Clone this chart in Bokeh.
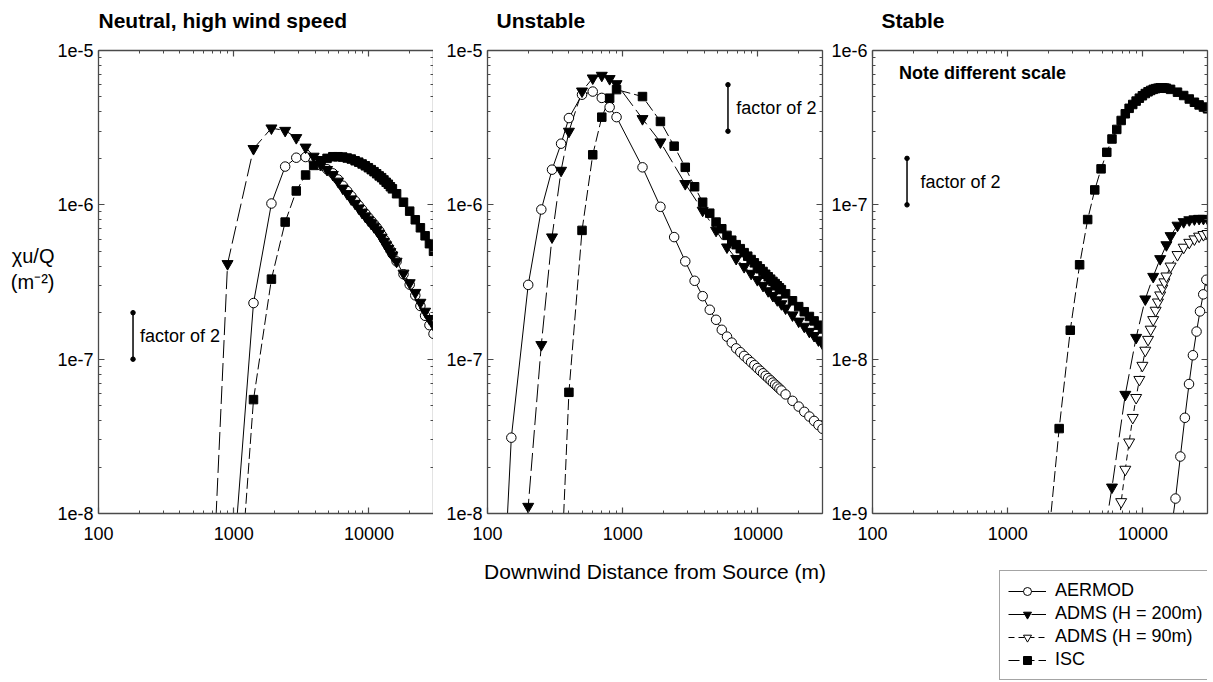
from bokeh.plotting import figure
from bokeh.layouts import row, column
from bokeh.models import (Range1d, FixedTicker, LogAxis, CustomJSTickFormatter,
                          Label, Legend, LegendItem, Title)
from bokeh.embed import file_html
from bokeh.resources import INLINE

N = None

# ---------------- data ----------------
DIST = [100, 150, 200, 250, 300, 350, 400, 500, 600, 700, 800, 900,
        1400, 1900, 2400, 2900, 3400, 3900, 4400, 4900, 5400, 5900, 6400, 6900,
        7400, 7900, 8400, 8900, 9400, 9900, 10400, 10900, 11400, 11900, 12400,
        12900, 13400, 13900, 14400, 14900,
        16000, 18000, 20000, 22000, 24000, 26000, 28000, 30000]

NEUTRAL_AERMOD = [N, N, N, N, N, N, N, N, N, N, N, 1.5e-9,
                  2.31e-7, 1.02e-6, 1.77e-6, 2.02e-6, 2.04e-6, 1.93e-6, 1.80e-6, 1.70e-6,
                  1.60e-6, 1.46e-6, 1.33e-6, 1.23e-6, 1.14e-6, 1.06e-6, 9.9e-7, 9.3e-7,
                  8.77e-7, 8.28e-7, 7.87e-7, 7.50e-7, 7.14e-7, 6.78e-7, 6.38e-7, 5.98e-7,
                  5.66e-7, 5.35e-7, 5.07e-7, 4.81e-7,
                  4.30e-7, 3.55e-7, 3.04e-7, 2.59e-7, 2.21e-7, 1.91e-7, 1.66e-7, 1.46e-7]
NEUTRAL_ADMS200 = [N, N, N, N, N, N, N, N, N, 3.3e-9, N, 4.15e-7,
                   2.31e-6, 3.14e-6, 3.03e-6, 2.72e-6, 2.36e-6, 2.06e-6, 1.83e-6, 1.69e-6,
                   1.57e-6, 1.42e-6, 1.28e-6, 1.18e-6, 1.09e-6, 1.02e-6, 9.5e-7, 8.9e-7,
                   8.4e-7, 7.95e-7, 7.55e-7, 7.2e-7, 6.86e-7, 6.52e-7, 6.15e-7, 5.78e-7,
                   5.49e-7, 5.21e-7, 4.96e-7, 4.72e-7,
                   4.30e-7, 3.60e-7, 3.12e-7, 2.70e-7, 2.33e-7, 2.04e-7, 1.83e-7, 1.66e-7]
NEUTRAL_ISC = [N, N, N, N, N, N, N, N, N, N, N, 2.6e-10,
               5.47e-8, 3.30e-7, 7.73e-7, 1.23e-6, 1.56e-6, 1.80e-6, 1.93e-6, 2.00e-6,
               2.05e-6, 2.05e-6, 2.04e-6, 2.01e-6, 1.98e-6, 1.93e-6, 1.89e-6, 1.84e-6,
               1.79e-6, 1.74e-6, 1.69e-6, 1.64e-6, 1.59e-6, 1.54e-6, 1.50e-6, 1.45e-6,
               1.40e-6, 1.36e-6, 1.31e-6, 1.27e-6,
               1.18e-6, 1.04e-6, 9.1e-7, 8.0e-7, 7.1e-7, 6.3e-7, 5.6e-7, 5.0e-7]

UNSTABLE_AERMOD = [2.5e-11, 3.10e-8, 3.03e-7, 9.33e-7, 1.69e-6, 2.49e-6, 3.65e-6, 5.17e-6,
                   5.42e-6, 4.93e-6, 4.29e-6, 3.70e-6,
                   1.75e-6, 9.71e-7, 6.18e-7, 4.30e-7, 3.22e-7, 2.56e-7, 2.09e-7, 1.80e-7,
                   1.55e-7, 1.40e-7, 1.28e-7, 1.175e-7, 1.11e-7, 1.05e-7, 1.00e-7, 9.55e-8,
                   9.14e-8, 8.75e-8, 8.41e-8, 8.10e-8, 7.80e-8, 7.53e-8, 7.29e-8, 7.05e-8,
                   6.84e-8, 6.64e-8, 6.45e-8, 6.27e-8,
                   5.91e-8, 5.37e-8, 4.93e-8, 4.56e-8, 4.25e-8, 3.98e-8, 3.74e-8, 3.54e-8]
UNSTABLE_ADMS200 = [N, 1e-11, 1.11e-8, 1.24e-7, 6.18e-7, 1.67e-6, 2.99e-6, 5.45e-6,
                    6.62e-6, 6.89e-6, 6.56e-6, 6.08e-6,
                    3.61e-6, 2.55e-6, N, 1.37e-6, N, 9.2e-7, N, 6.82e-7,
                    N, 5.32e-7, N, 4.48e-7, N, 3.97e-7, N, 3.59e-7,
                    N, 3.27e-7, N, 3.00e-7, N, 2.77e-7, N, 2.58e-7,
                    N, 2.42e-7, N, 2.28e-7,
                    2.14e-7, 1.93e-7, 1.76e-7, 1.63e-7, 1.51e-7, 1.42e-7, 1.33e-7, 1.26e-7]
UNSTABLE_ISC = [N, N, N, N, N, 4e-9, 6.1e-8, 6.83e-7, 2.11e-6, 3.70e-6, 4.91e-6, 5.58e-6,
                5.03e-6, 3.47e-6, 2.40e-6, 1.75e-6, 1.31e-6, 1.04e-6, 8.83e-7, 7.73e-7,
                7.0e-7, 6.34e-7, 5.90e-7, 5.52e-7, 5.20e-7, 4.90e-7, 4.65e-7, 4.42e-7,
                4.21e-7, 4.02e-7, 3.85e-7, 3.70e-7, 3.55e-7, 3.42e-7, 3.30e-7, 3.19e-7,
                3.09e-7, 2.99e-7, 2.90e-7, 2.82e-7,
                2.65e-7, 2.39e-7, 2.19e-7, 2.03e-7, 1.89e-7, 1.77e-7, 1.66e-7, 1.57e-7]

STABLE_AERMOD_DIST = [15900, 17400, 18900, 20400, 21900, 23400, 24900, 26400, 27900, 29400]
STABLE_AERMOD = [7e-10, 1.25e-9, 2.34e-9, 4.17e-9, 6.9e-9, 1.06e-8, 1.51e-8, 2.04e-8,
                 2.63e-8, 3.27e-8]
STABLE_ADMS200 = [N, N, N, N, N, N, N, N, N, N, N, N,
                  N, N, N, N, N, N, 2.9e-10, N, N, 1.48e-9, N, N,
                  5.9e-9, N, N, 1.38e-8, N, N, 2.45e-8, N, N, 3.43e-8, N, N,
                  4.47e-8, N, N, 5.5e-8,
                  6.3e-8, 7.36e-8, 7.76e-8, 7.98e-8, 8.09e-8, 8.15e-8, 8.15e-8, 8.13e-8]
STABLE_ADMS90 = [N, N, N, N, N, N, N, N, N, N, N, N,
                 N, N, N, N, N, N, N, N, N, N, 5e-10, 1.19e-9,
                 1.93e-9, 2.9e-9, 4.18e-9, 5.63e-9, 7.37e-9, 9.1e-9, 1.14e-8, 1.34e-8,
                 1.56e-8, 1.80e-8, 2.07e-8, 2.34e-8, 2.6e-8, 2.88e-8, 3.16e-8, 3.45e-8,
                 4.0e-8, 4.75e-8, 5.3e-8, 5.7e-8, 6.0e-8, 6.25e-8, 6.4e-8, 6.5e-8]
STABLE_ISC = [N, N, N, N, N, N, N, N, N, N, N, N,
              N, 4.2e-10, 3.55e-9, 1.54e-8, 4.09e-8, 8.03e-8, 1.25e-7, 1.71e-7,
              2.19e-7, 2.67e-7, 3.08e-7, 3.52e-7, 3.89e-7, 4.22e-7, 4.47e-7, 4.70e-7,
              4.91e-7, 5.09e-7, 5.26e-7, 5.40e-7, 5.51e-7, 5.60e-7, 5.66e-7, 5.70e-7,
              5.73e-7, 5.73e-7, 5.71e-7, 5.69e-7,
              5.60e-7, 5.37e-7, 5.11e-7, 4.85e-7, 4.62e-7, 4.44e-7, 4.30e-7, 4.19e-7]

TITLES = ["Neutral, high wind speed", "Unstable", "Stable"]
SERIES_NAMES = ["AERMOD", "ADMS (H = 200m)", "ADMS (H = 90m)", "ISC"]
X_TICKS = [100, 1000, 10000]
X_MINOR = [200, 300, 400, 500, 600, 700, 800, 900,
           2000, 3000, 4000, 5000, 6000, 7000, 8000, 9000, 20000, 30000]
Y_TICKS_A = [1e-8, 1e-7, 1e-6, 1e-5]
Y_TICKS_B = [1e-9, 1e-8, 1e-7, 1e-6]

# ---------------- style ----------------
FONT = "Liberation Sans"
AXC = "#4a4a4a"
STYLE = {
    "AERMOD": dict(marker="circle", size=9.5, fill="white", dash="solid"),
    "ADMS (H = 200m)": dict(marker="inverted_triangle", size=11, fill="black", dash="18 5"),
    "ADMS (H = 90m)": dict(marker="inverted_triangle", size=11, fill="white", dash="6 4"),
    "ISC": dict(marker="square", size=8.5, fill="black", dash="11 4"),
}


def minor_of(majors):
    out = []
    for m in majors[:-1]:
        out += [m * k for k in range(2, 10)]
    return out


def style_axis(ax, labels=True):
    ax.axis_line_color = AXC
    ax.axis_line_width = 1.3
    ax.major_tick_line_color = AXC
    ax.minor_tick_line_color = AXC
    ax.major_tick_line_width = 1.2
    ax.minor_tick_line_width = 1.0
    ax.major_tick_in = 6
    ax.major_tick_out = 0
    ax.minor_tick_in = 3
    ax.minor_tick_out = 0
    if labels:
        ax.major_label_text_font = FONT
        ax.major_label_text_font_size = "18px"
        ax.major_label_text_color = "black"
    else:
        ax.formatter = CustomJSTickFormatter(code="return '';")
        ax.major_label_text_font_size = "0px"
        ax.major_label_standoff = 0


def pts(xs, ys):
    xx = [x for x, y in zip(xs, ys) if y is not None]
    yy = [y for y in ys if y is not None]
    return xx, yy


def make_panel(yticks, left_border, right_border, bottom_border, title, title_offset):
    p = figure(x_axis_type="log", y_axis_type="log", title=None,
               x_range=Range1d(100, 30000), y_range=Range1d(yticks[0], yticks[-1]),
               frame_width=335, frame_height=463,
               min_border_left=left_border, min_border_right=right_border,
               min_border_top=50, min_border_bottom=bottom_border,
               toolbar_location=None, output_backend="svg", align="start")
    p.outline_line_color = None
    p.grid.visible = False
    p.background_fill_color = "white"
    p.border_fill_color = "white"
    bottom = p.below[0]
    left = p.left[0]
    bottom.ticker = FixedTicker(ticks=X_TICKS, minor_ticks=X_MINOR)
    left.ticker = FixedTicker(ticks=yticks, minor_ticks=minor_of(yticks))
    bottom.formatter = CustomJSTickFormatter(code="return tick.toFixed(0);")
    left.formatter = CustomJSTickFormatter(code="return tick.toExponential();")
    style_axis(bottom)
    style_axis(left)
    bottom.major_label_standoff = 13
    left.major_label_standoff = 5
    top = LogAxis(ticker=FixedTicker(ticks=X_TICKS, minor_ticks=X_MINOR))
    right = LogAxis(ticker=FixedTicker(ticks=yticks, minor_ticks=minor_of(yticks)))
    style_axis(top, labels=False)
    style_axis(right, labels=False)
    p.add_layout(top, "above")
    p.add_layout(right, "right")
    # white (invisible) spacer between the top axis and the panel title
    p.add_layout(Title(text="\u00a0", text_font_size="10px", standoff=6,
                       text_color="white"), "above")
    p.add_layout(Title(text=title, align="left", offset=title_offset, standoff=0,
                       text_font=FONT, text_font_size="21px", text_font_style="bold",
                       text_color="black"), "above")
    return p


def draw(p, series):
    rends = {}
    for name, xs, ys in series:
        x, y = pts(xs, ys)
        st = STYLE[name]
        rends[name] = [p.line(x, y, line_color="black", line_width=1, line_dash=st["dash"])]
    for name, xs, ys in series:
        x, y = pts(xs, ys)
        st = STYLE[name]
        rends[name].append(p.scatter(x, y, marker=st["marker"], size=st["size"],
                                     fill_color=st["fill"], line_color="black", line_width=1))
    return rends


def text(p, x, y, s, size="18px", bold=False, align="left"):
    p.add_layout(Label(x=x, y=y, text=s, text_font=FONT, text_font_size=size,
                       text_font_style="bold" if bold else "normal",
                       text_align=align, text_baseline="middle", text_color="black"))


def factor_bar(p, x, y0, y1, tx):
    p.segment(x0=[x], y0=[y0], x1=[x], y1=[y1], line_color="black", line_width=1.5)
    p.scatter([x, x], [y0, y1], size=4.5, color="black")
    text(p, tx, (y0 * y1) ** 0.5, "factor of 2")


# ---------------- panels ----------------
p1 = make_panel(Y_TICKS_A, 98, 0, 169, TITLES[0], 0)
draw(p1, [("AERMOD", DIST, NEUTRAL_AERMOD),
          ("ADMS (H = 200m)", DIST, NEUTRAL_ADMS200),
          ("ISC", DIST, NEUTRAL_ISC)])
factor_bar(p1, 180, 1e-7, 2e-7, 203)
yl = p1.left[0]
yl.axis_label = "χu/Q\n(m⁻²)\n\u00a0"
yl.axis_label_orientation = "horizontal"
yl.axis_label_text_align = "center"
yl.axis_label_text_font = FONT
yl.axis_label_text_font_size = "20px"
yl.axis_label_text_font_style = "normal"
yl.axis_label_text_color = "black"
yl.axis_label_text_line_height = 1.2
yl.axis_label_standoff = 0

p2 = make_panel(Y_TICKS_A, 54, 6, 169, TITLES[1], 9)
draw(p2, [("AERMOD", DIST, UNSTABLE_AERMOD),
          ("ADMS (H = 200m)", DIST, UNSTABLE_ADMS200),
          ("ISC", DIST, UNSTABLE_ISC)])
factor_bar(p2, 6000, 3e-6, 6e-6, 6920)
xl = p2.below[0]
xl.axis_label = "Downwind Distance from Source (m)"
xl.axis_label_text_font = FONT
xl.axis_label_text_font_size = "21px"
xl.axis_label_text_font_style = "normal"
xl.axis_label_text_color = "black"
xl.axis_label_standoff = 17

p3 = make_panel(Y_TICKS_B, 44, 2, 34, TITLES[2], 9)
r3 = draw(p3, [("AERMOD", STABLE_AERMOD_DIST, STABLE_AERMOD),
               ("ADMS (H = 200m)", DIST, STABLE_ADMS200),
               ("ADMS (H = 90m)", DIST, STABLE_ADMS90),
               ("ISC", DIST, STABLE_ISC)])
text(p3, 157, 7.2e-7, "Note different scale", size="18px", bold=True)
factor_bar(p3, 180, 1e-7, 2e-7, 226)

# ---------------- legend (own small canvas under panel 3) ----------------
leg = figure(width=381, height=135, min_border=0, title=None,
             x_range=Range1d(0, 1), y_range=Range1d(0, 1),
             x_axis_location=None, y_axis_location=None,
             toolbar_location=None, output_backend="svg", align="start")
leg.outline_line_color = None
leg.grid.visible = False
leg_items = []
for name in SERIES_NAMES:
    st = STYLE[name]
    lr = leg.line([5, 6], [5, 6], line_color="black", line_width=1, line_dash=st["dash"])
    sr = leg.scatter([5], [5], marker=st["marker"], size=st["size"],
                     fill_color=st["fill"], line_color="black", line_width=1)
    leg_items.append(LegendItem(label=name, renderers=[lr, sr]))

legend = Legend(items=leg_items, location=(127, 2))
legend.glyph_width = 38
legend.glyph_height = 20
legend.label_height = 23
legend.spacing = 0
legend.padding = 8
legend.margin = 0
legend.label_standoff = 9
legend.label_text_font = FONT
legend.label_text_font_size = "18px"
legend.label_text_color = "black"
legend.border_line_color = AXC
legend.border_line_width = 1.3
legend.background_fill_color = "white"
legend.background_fill_alpha = 1.0
leg.add_layout(legend)

layout = row(p1, p2, column(p3, leg, align="start"), align="start")
open("out.html", "w").write(file_html(layout, INLINE))
